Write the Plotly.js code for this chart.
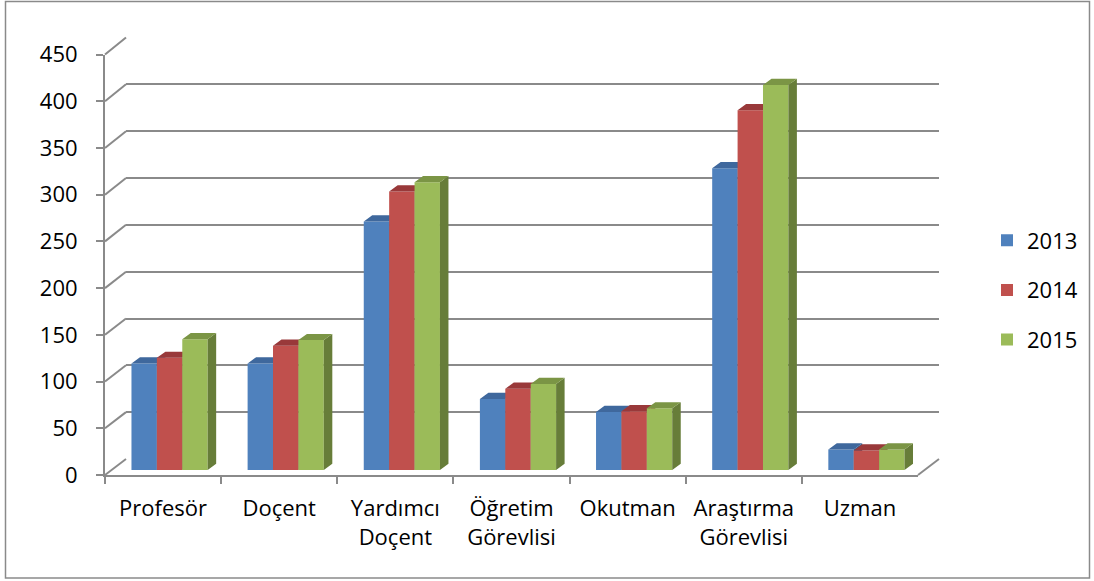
<!DOCTYPE html>
<html>
<head>
<meta charset="utf-8">
<script src="https://cdn.plot.ly/plotly-3.0.1.min.js"></script>
<style>
  html, body { margin: 0; padding: 0; background: #ffffff; }
  #chart { width: 1094px; height: 581px; }
</style>
</head>
<body>
<div id="chart"></div>
<script>
// ---------- data ----------
const categories = ['Profesör', 'Doçent', 'Yardımcı<br>Doçent', 'Öğretim<br>Görevlisi', 'Okutman', 'Araştırma<br>Görevlisi', 'Uzman'];
const years = ['2013', '2014', '2015'];
const values2013 = [114, 114, 266, 76, 62, 323, 22];
const values2014 = [120, 133, 298, 87, 63, 385, 21];
const values2015 = [140, 139, 308, 92, 66, 412, 22];
const yTickValues = [0, 50, 100, 150, 200, 250, 300, 350, 400, 450];

// ---------- styling / geometry ----------
const W = 1094, H = 581;
const FONT = 'Open Sans, Liberation Sans, sans-serif';
const FS = 22;
const frontColors = ['#4f81bd', '#c0504d', '#9bbb59'];
const topColors   = ['#3f689d', '#99393a', '#7b9545'];
const sideColors  = ['#385d8a', '#8c3836', '#677d39'];
const gridColor = '#8a8a8a';
const YMAX = 450;

const px = p => p / W;          // page x pixel -> paper
const py = p => 1 - p / H;      // page y pixel -> paper

// planes (pixel positions of the 3D projection)
const front = {x0: 105, x1: 918, yb: 475, yt: 54.5};
const back  = {x0: 126, x1: 939, yb: 459, yt: 37.5};
const barPl = {x0: 111.5, x1: 924.5, yb: 470, yt: 49.5};

const nCat = categories.length;
const unitPx = (barPl.x1 - barPl.x0) / nCat;          // px per category
const valPx = (barPl.yb - barPl.yt) / YMAX;           // px per value unit
const barW = 25.4 / unitPx;                            // bar width in category units
const groupOffsets = [-1.5 * barW, -0.5 * barW, 0.5 * barW];
const depthX = 8.5 / unitPx;                           // depth projection (x)
const depthY = 6.2 / valPx;                            // depth projection (y, in value units)

const series = [values2013, values2014, values2015];
const idx = categories.map((c, i) => i);

const traces = [];

// back wall dummy trace (subplot x/y)
traces.push({type: 'scatter', x: [0], y: [null], xaxis: 'x', yaxis: 'y', showlegend: false, hoverinfo: 'skip'});
// front axes dummy trace (category axis x2/y2)
traces.push({type: 'scatter', x: categories, y: categories.map(() => null), xaxis: 'x2', yaxis: 'y2',
  showlegend: false, hoverinfo: 'skip', mode: 'markers'});

const barAxes = [['x3', 'y3'], ['x4', 'y4'], ['x5', 'y5']];
series.forEach((vals, k) => {
  const [xa, ya] = barAxes[k];
  const off = groupOffsets[k];
  const sx = [], sy = [], tx = [], ty = [];
  vals.forEach((v, i) => {
    const x0 = i + off, x1 = i + off + barW;
    sx.push(x1, x1, x1 + depthX, x1 + depthX, x1, null);
    sy.push(0, v, v + depthY, depthY, 0, null);
    tx.push(x0, x1, x1 + depthX, x0 + depthX, x0, null);
    ty.push(v, v, v + depthY, v + depthY, v, null);
  });
  traces.push({type: 'scatter', x: sx, y: sy, xaxis: xa, yaxis: ya, mode: 'lines', fill: 'toself',
    fillcolor: sideColors[k], line: {width: 0, color: sideColors[k]}, showlegend: false, hoverinfo: 'skip',
    legendgroup: years[k]});
  traces.push({type: 'scatter', x: tx, y: ty, xaxis: xa, yaxis: ya, mode: 'lines', fill: 'toself',
    fillcolor: topColors[k], line: {width: 0, color: topColors[k]}, showlegend: false, hoverinfo: 'skip',
    legendgroup: years[k]});
  traces.push({type: 'bar', name: years[k], x: idx, y: vals, xaxis: xa, yaxis: ya,
    offset: off, width: barW, marker: {color: frontColors[k], line: {width: 0}},
    legendgroup: years[k], showlegend: true,
    customdata: categories.map(c => c.replace('<br>', ' ')),
    hovertemplate: '%{customdata}<br>' + years[k] + ': %{y}<extra></extra>'});
});

// shapes: diagonal connectors between front axis and back wall, floor edge, chart border
const shapes = [];
yTickValues.forEach(v => {
  const yf = front.yb - (front.yb - front.yt) * v / YMAX;
  const yb = back.yb - (back.yb - back.yt) * v / YMAX;
  shapes.push({type: 'line', xref: 'paper', yref: 'paper', x0: px(front.x0), y0: py(yf), x1: px(back.x0), y1: py(yb),
    line: {color: gridColor, width: 2}, layer: 'below'});
});
shapes.push({type: 'line', xref: 'paper', yref: 'paper', x0: px(front.x1), y0: py(front.yb), x1: px(back.x1), y1: py(back.yb),
  line: {color: gridColor, width: 2}, layer: 'below'});
shapes.push({type: 'rect', xref: 'paper', yref: 'paper', x0: px(5.5), y0: py(1.5), x1: px(1089.5), y1: py(578),
  line: {color: '#8a8a8a', width: 1.5}, fillcolor: 'rgba(0,0,0,0)', layer: 'below'});

const hidden = {visible: false, fixedrange: true};

const layout = {
  width: W, height: H,
  margin: {l: 0, r: 0, t: 0, b: 0, pad: 0},
  paper_bgcolor: '#ffffff', plot_bgcolor: 'rgba(0,0,0,0)',
  font: {family: FONT, size: FS, color: '#000000'},
  showlegend: true,
  hovermode: 'closest',
  // back wall with grid lines
  xaxis: Object.assign({}, hidden, {domain: [px(back.x0), px(back.x1)], range: [0, 1], anchor: 'y'}),
  yaxis: {domain: [py(back.yb), py(back.yt)], range: [0, YMAX], anchor: 'x', tickvals: yTickValues,
    showgrid: true, gridcolor: gridColor, gridwidth: 2, showticklabels: false, ticks: '', zeroline: false,
    showline: false, fixedrange: true},
  // front axes with labels
  xaxis2: {domain: [px(front.x0), px(front.x1)], anchor: 'y2', type: 'category', categoryorder: 'array',
    categoryarray: categories, range: [-0.5, nCat - 0.5], tickson: 'boundaries', ticks: 'outside', ticklen: 7,
    tickwidth: 2, tickcolor: gridColor, showline: true, linecolor: gridColor, linewidth: 2, showgrid: false,
    zeroline: false, tickfont: {family: FONT, size: FS, color: '#000'}, ticklabelstandoff: 13, fixedrange: true},
  yaxis2: {domain: [py(front.yb), py(front.yt)], anchor: 'x2', range: [0, YMAX], tickvals: yTickValues,
    ticks: 'outside', ticklen: 7, tickwidth: 2, tickcolor: gridColor, showline: true, linecolor: gridColor,
    linewidth: 2, showgrid: false, zeroline: false, tickfont: {family: FONT, size: FS, color: '#000'},
    ticklabelstandoff: 14, fixedrange: true},
  // bar planes
  xaxis3: Object.assign({}, hidden, {domain: [px(barPl.x0), px(barPl.x1)], range: [-0.5, nCat - 0.5], anchor: 'y3'}),
  yaxis3: Object.assign({}, hidden, {domain: [py(barPl.yb), py(barPl.yt)], range: [0, YMAX], anchor: 'x3'}),
  xaxis4: Object.assign({}, hidden, {overlaying: 'x3', range: [-0.5, nCat - 0.5], anchor: 'y4'}),
  yaxis4: Object.assign({}, hidden, {overlaying: 'y3', range: [0, YMAX], anchor: 'x4'}),
  xaxis5: Object.assign({}, hidden, {overlaying: 'x3', range: [-0.5, nCat - 0.5], anchor: 'y5'}),
  yaxis5: Object.assign({}, hidden, {overlaying: 'y3', range: [0, YMAX], anchor: 'x5'}),
  legend: {x: px(987), xanchor: 'left', y: py(290), yanchor: 'middle', traceorder: 'grouped',
    tracegroupgap: 18, font: {family: FONT, size: FS, color: '#000'}, bgcolor: 'rgba(0,0,0,0)', borderwidth: 0},
  shapes: shapes
};

Plotly.newPlot('chart', traces, layout, {displayModeBar: false, responsive: false});
</script>
</body>
</html>
